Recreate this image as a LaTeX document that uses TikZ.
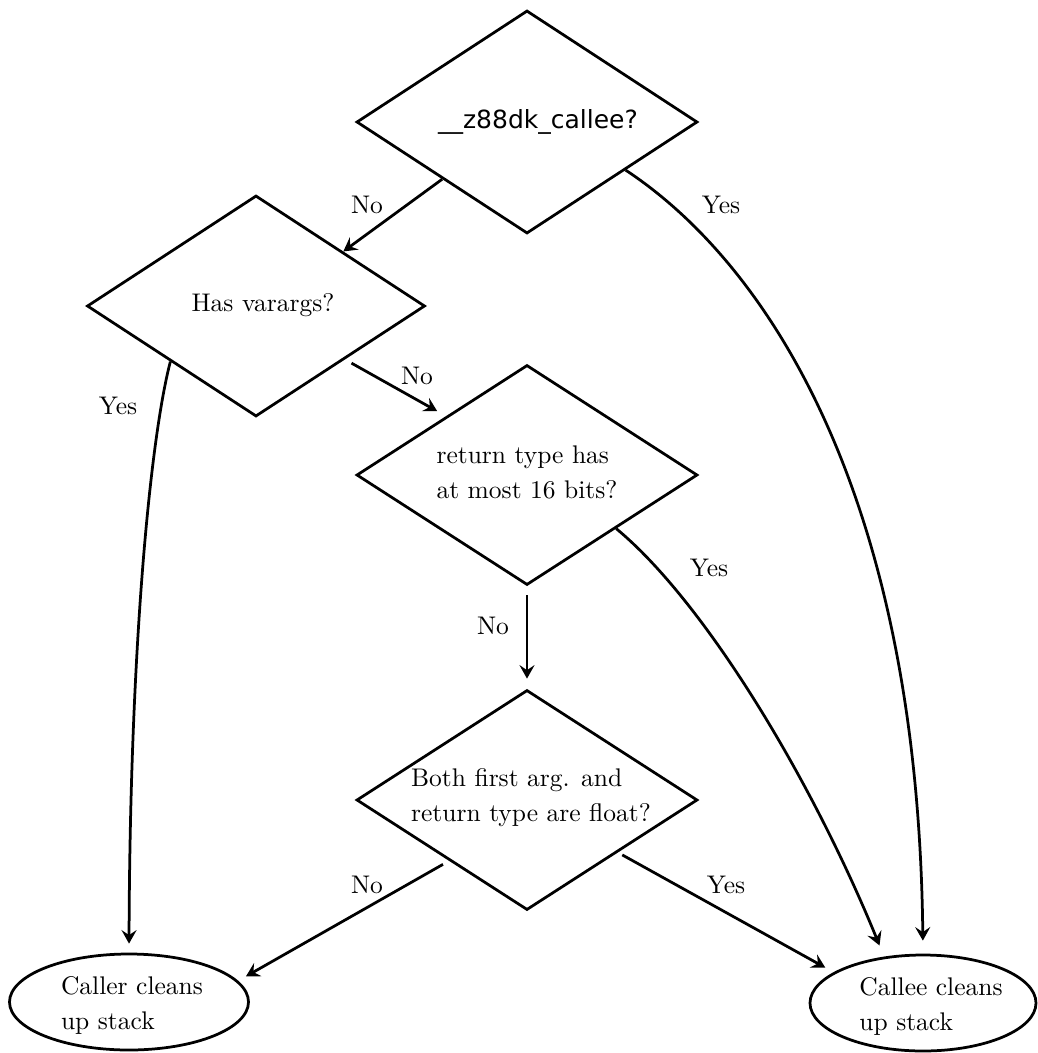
\documentclass[tikz,border=0pt]{standalone}
\usepackage{fontspec}
\newfontfamily\dejavu{DejaVu Sans}
\usetikzlibrary{shapes.geometric,arrows.meta}
\begin{document}
\begin{tikzpicture}[x=0.4pt,y=-0.4pt,
  dec/.style={shape=diamond, draw, line width=1.1pt, inner sep=0pt, minimum width=136.4pt, minimum height=88pt},
  term/.style={shape=ellipse, draw, line width=1.1pt, inner sep=0pt, minimum height=38.4pt},
  txt/.style={font=\fontsize{10.2pt}{14pt}\selectfont, align=left, inner sep=0pt},
  lab/.style={font=\fontsize{10.2pt}{14pt}\selectfont, inner sep=0pt},
  conn/.style={line width=1.1pt, -{Stealth[length=5.4pt,width=6pt,inset=2pt]}}]
\useasboundingbox (0,0) rectangle (1038,1053);
% shapes
\node[dec, minimum height=89.2pt] (d1) at (527,122) {};
\node[dec, minimum width=135.2pt, minimum height=88.4pt] (d2) at (256,306) {};
\node[dec] (d3) at (527,475) {};
\node[dec] (d4) at (527,800) {};
\node[term, minimum width=95.6pt] (caller) at (129,1002) {};
\node[term, minimum width=90.4pt] (callee) at (923,1003) {};
% texts
\node[txt, font=\dejavu\fontsize{10pt}{12pt}\selectfont] (d1t) at (538,122) {\_\_z88dk\_callee?};
\node[txt] (d2t) at (263,305) {Has varargs?};
\node[txt] (d3t) at (527,472) {return type has\\at most 16 bits?};
\node[txt] (d4t) at (531,798) {Both first arg. and\\return type are float?};
\node[txt] (callert) at (132,1005) {Caller cleans\\up stack};
\node[txt] (calleet) at (931,1006) {Callee cleans\\up stack};
% connectors
\draw[conn] (d1.214) -- (d2.32);
\draw[conn, shorten >=5.2pt] (d1.-26.6) .. controls (765,262) and (918,490) .. (callee.north);
\draw[conn, shorten >=3.6pt] (d2.213) .. controls (150,440) and (130,650) .. (caller.north);
\draw[conn, shorten <=3pt, shorten >=4pt] (d2.-31.7) -- (d3.144.3);
\draw[conn, shorten <=3.6pt, shorten >=4pt] (d3.south) -- (d4.north);
\draw[conn, shorten >=4.8pt] (d3.-31.2) .. controls (705,602) and (812,780) .. (callee.130);
\draw[conn, shorten <=2.8pt, shorten >=3.6pt] (d4.218.4) -- (caller.11);
\draw[conn, shorten <=2pt, shorten >=3.8pt] (d4.-30.1) -- (callee.161);
% labels
\node[lab] (l1) at (367,205) {No};
\node[lab] (l2) at (721,205) {Yes};
\node[lab] (l3) at (118,406) {Yes};
\node[lab] (l4) at (417,376) {No};
\node[lab] (l5) at (709,568) {Yes};
\node[lab] (l6) at (493,626) {No};
\node[lab] (l7) at (367,885) {No};
\node[lab] (l8) at (726,885) {Yes};
\end{tikzpicture}
\end{document}
